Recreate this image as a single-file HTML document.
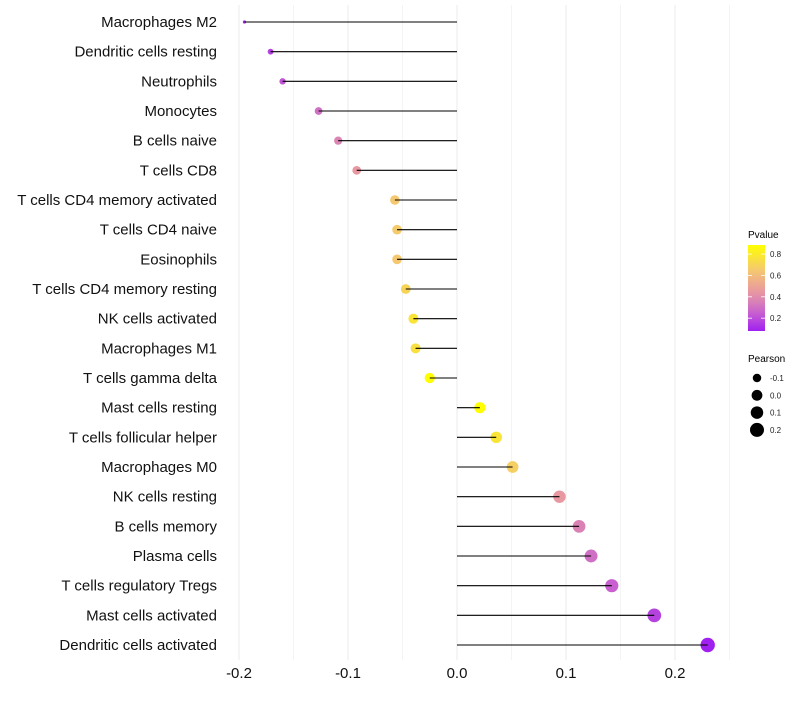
<!DOCTYPE html>
<html><head><meta charset="utf-8">
<style>
html,body{margin:0;padding:0;background:#fff;}
svg text{font-family:"Liberation Sans",sans-serif;}
</style></head>
<body>
<svg id="chart" width="800" height="700" xmlns="http://www.w3.org/2000/svg">
<g id="grid"></g>
<g id="marks"></g>
<g id="ylabels"></g>
<g id="xlabels"></g>
<g id="legend">
  <defs>
    <linearGradient id="pg" x1="0" y1="1" x2="0" y2="0"></linearGradient>
  </defs>
  <text x="748" y="238" font-size="10" fill="#000">Pvalue</text>
  <rect x="748" y="245" width="17" height="86" fill="url(#pg)"/>
  <g id="plabels"></g>
  <text x="748" y="362" font-size="10" fill="#000">Pearson</text>
  <g id="slabels"></g>
</g>
</svg>
<script>
const cells = ["Macrophages M2","Dendritic cells resting","Neutrophils","Monocytes","B cells naive","T cells CD8","T cells CD4 memory activated","T cells CD4 naive","Eosinophils","T cells CD4 memory resting","NK cells activated","Macrophages M1","T cells gamma delta","Mast cells resting","T cells follicular helper","Macrophages M0","NK cells resting","B cells memory","Plasma cells","T cells regulatory  Tregs ","Mast cells activated","Dendritic cells activated"];
const pearson = [-0.195,-0.171,-0.160,-0.127,-0.109,-0.092,-0.057,-0.055,-0.055,-0.047,-0.040,-0.038,-0.025,0.021,0.036,0.051,0.094,0.112,0.123,0.142,0.181,0.230];
const pvalue = [0.1,0.17,0.22,0.3,0.37,0.45,0.65,0.66,0.65,0.7,0.77,0.75,0.88,0.88,0.77,0.68,0.45,0.36,0.3,0.25,0.17,0.08];
const xTicks = [-0.2,-0.1,0.0,0.1,0.2];
const xTickLabels = ["-0.2","-0.1","0.0","0.1","0.2"];
const pTicks = [0.2,0.4,0.6,0.8];
const sTicks = [-0.1,0.0,0.1,0.2];

const NS="http://www.w3.org/2000/svg";
const xs = v => 457 + v*1090;
const ys = i => 22 + i*(623/21);
const pmin = Math.min(...pearson), pmax = Math.max(...pearson);
const rs = v => { const t=Math.max(0,(v-pmin)/(pmax-pmin)); return 1.6+5.6*Math.sqrt(t); };
const PLO=0.08, PHI=0.885;
const cstops = [[0.08,[160,32,240]],[0.25,[200,96,208]],[0.35,[216,128,184]],[0.45,[232,152,160]],[0.65,[245,200,112]],[0.885,[255,255,0]]];
function col(p){
  p=Math.max(PLO,Math.min(PHI,p));
  for(let k=0;k<cstops.length-1;k++){
    const [a,ca]=cstops[k],[b,cb]=cstops[k+1];
    if(p<=b){const t=(p-a)/(b-a);const c=ca.map((x,j)=>Math.round(x+(cb[j]-x)*t));return `rgb(${c[0]},${c[1]},${c[2]})`;}
  }
  return 'rgb(255,255,0)';
}
function mk(tag, attrs, parent){const e=document.createElementNS(NS,tag);for(const k in attrs)e.setAttribute(k,attrs[k]);parent.appendChild(e);return e;}

const grad=document.getElementById('pg');
cstops.forEach(([p,c])=>{mk('stop',{offset:(p-PLO)/(PHI-PLO),'stop-color':`rgb(${c[0]},${c[1]},${c[2]})`},grad);});

const grid=document.getElementById('grid');
for(let k=-4;k<=5;k++){
  const v=k*0.05;
  const l=mk('line',{x1:xs(v),x2:xs(v),y1:5,y2:660,stroke:k%2===0?'#ebebeb':'#f4f4f4','stroke-width':1},grid);
  
  
}
const xl=document.getElementById('xlabels');
xTicks.forEach((v,i)=>{
  const t=mk('text',{x:xs(v),y:678,'text-anchor':'middle','font-size':15,fill:'#111'},xl);
  t.textContent=xTickLabels[i];
  
  
});
const marks=document.getElementById('marks'), yl=document.getElementById('ylabels');
cells.forEach((c,i)=>{
  const y=ys(i);
  const pt=mk('circle',{cx:xs(pearson[i]),cy:y,r:rs(pearson[i]),fill:col(pvalue[i])},marks);
  
  
  const ln=mk('line',{x1:xs(0),x2:xs(pearson[i]),y1:y,y2:y,stroke:'#000','stroke-width':1.1},marks);
  
  
  const t=mk('text',{x:217,y:y+5,'text-anchor':'end','font-size':15,fill:'#111'},yl);
  t.textContent=c;
  
  
});
const pl=document.getElementById('plabels');
pTicks.forEach(p=>{
  const y=331-(p-PLO)/(PHI-PLO)*86;
  const a=mk('line',{x1:748,x2:752,y1:y,y2:y,stroke:'#fff','stroke-width':0.8},pl);
  
  
  const b=mk('line',{x1:761,x2:765,y1:y,y2:y,stroke:'#fff','stroke-width':0.8},pl);
  
  
  const t=mk('text',{x:770,y:y+3,'font-size':8,fill:'#222'},pl);
  t.textContent=p.toFixed(1);
  
  
});
const sl=document.getElementById('slabels');
sTicks.forEach((s,i)=>{
  const y=378+i*17.3;
  const c=mk('circle',{cx:757,cy:y,r:rs(s),fill:'#000'},sl);
  
  
  const t=mk('text',{x:770,y:y+3,'font-size':8,fill:'#222'},sl);
  t.textContent=s.toFixed(1);
  
  
});
</script>
</body></html>
